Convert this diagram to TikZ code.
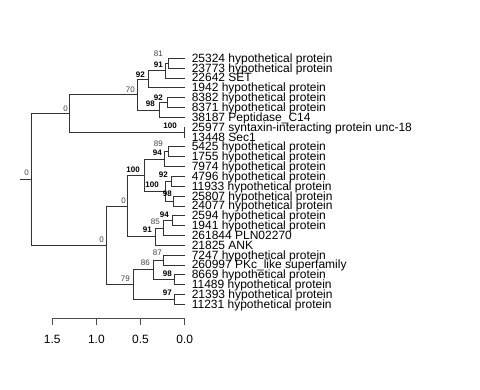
\documentclass[tikz,border=0pt]{standalone}
\usepackage{fontspec}
\setmainfont{Liberation Sans}
\usepackage{tikz}
\usetikzlibrary{calc}
\tikzset{
  treeline/.style={
    draw=black!80, line width=0.6pt
  },
  tiplabel/.style={
    anchor=base west, inner sep=0pt, xshift=4.9pt, yshift=-3pt,
    font=\fontsize{9}{9}\selectfont
  },
  bootlabel/.style={
    anchor=base east, inner sep=0pt,
    font=\fontsize{6}{6}\selectfont, text=black!75
  },
  bootstrong/.style={
    anchor=base east, inner sep=0pt,
    font=\fontsize{6}{6}\selectfont\bfseries, text=black
  },
  axisline/.style={
    draw=black!70, line width=0.6pt
  },
  axislabel/.style={
    anchor=base, inner sep=0pt, font=\fontsize{9}{9}\selectfont
  },
}

\begin{document}
\begin{tikzpicture}[x=0.75pt, y=-0.75pt]
  \useasboundingbox (0,0) rectangle (480,390);

  % --- Tips ---
  \coordinate (t1) at (185, 58.30);  \node[tiplabel] (n1) at (t1) {25324 hypothetical protein};
  \coordinate (t2) at (185, 68.14);  \node[tiplabel] (n2) at (t2) {23773 hypothetical protein};
  \coordinate (t3) at (185, 77.98);  \node[tiplabel] (n3) at (t3) {22642 SET};
  \coordinate (t4) at (185, 87.82);  \node[tiplabel] (n4) at (t4) {1942 hypothetical protein};
  \coordinate (t5) at (185, 97.66);  \node[tiplabel] (n5) at (t5) {8382 hypothetical protein};
  \coordinate (t6) at (185,107.50);  \node[tiplabel] (n6) at (t6) {8371 hypothetical protein};
  \coordinate (t7) at (185,117.34);  \node[tiplabel] (n7) at (t7) {38187 Peptidase\_C14};
  \coordinate (t8) at (185,127.18);  \node[tiplabel] (n8) at (t8) {25977 syntaxin-interacting protein unc-18};
  \coordinate (t9) at (185,137.02);  \node[tiplabel] (n9) at (t9) {13448 Sec1};
  \coordinate (t10) at (185,146.86); \node[tiplabel] (n10) at (t10) {5425 hypothetical protein};
  \coordinate (t11) at (185,156.70); \node[tiplabel] (n11) at (t11) {1755 hypothetical protein};
  \coordinate (t12) at (185,166.54); \node[tiplabel] (n12) at (t12) {7974 hypothetical protein};
  \coordinate (t13) at (185,176.38); \node[tiplabel] (n13) at (t13) {4796 hypothetical protein};
  \coordinate (t14) at (185,186.22); \node[tiplabel] (n14) at (t14) {11933 hypothetical protein};
  \coordinate (t15) at (185,196.06); \node[tiplabel] (n15) at (t15) {25807 hypothetical protein};
  \coordinate (t16) at (185,205.90); \node[tiplabel] (n16) at (t16) {24077 hypothetical protein};
  \coordinate (t17) at (185,215.74); \node[tiplabel] (n17) at (t17) {2594 hypothetical protein};
  \coordinate (t18) at (185,225.58); \node[tiplabel] (n18) at (t18) {1941 hypothetical protein};
  \coordinate (t19) at (185,235.42); \node[tiplabel] (n19) at (t19) {261844 PLN02270};
  \coordinate (t20) at (185,245.26); \node[tiplabel] (n20) at (t20) {21825 ANK};
  \coordinate (t21) at (185,255.10); \node[tiplabel] (n21) at (t21) {7247 hypothetical protein};
  \coordinate (t22) at (185,264.94); \node[tiplabel] (n22) at (t22) {260997 PKc\_like superfamily};
  \coordinate (t23) at (185,274.78); \node[tiplabel] (n23) at (t23) {8669 hypothetical protein};
  \coordinate (t24) at (185,284.62); \node[tiplabel] (n24) at (t24) {11489 hypothetical protein};
  \coordinate (t25) at (185,294.46); \node[tiplabel] (n25) at (t25) {21393 hypothetical protein};
  \coordinate (t26) at (185,304.30); \node[tiplabel] (n26) at (t26) {11231 hypothetical protein};

  % --- Inner nodes, upper clade ---
  \coordinate (c81)   at (168.0, 63.22);
  \coordinate (c91)   at (165.0, 70.60);
  \coordinate (c92a)  at (148.0, 79.21);
  \coordinate (c92b)  at (167.0,102.58);
  \coordinate (c98a)  at (159.5,109.96);
  \coordinate (c70)   at (137.0, 94.59);
  \coordinate (c100a) at (184.3,132.10);
  \coordinate (c0u)   at ( 69.0,113.34);

  % --- Inner nodes, lower clade ---
  \coordinate (c89)   at (168.5,151.78);
  \coordinate (c94a)  at (164.0,159.16);
  \coordinate (c92c)  at (171.0,181.30);
  \coordinate (c98c)  at (173.5,200.98);
  \coordinate (c100c) at (165.0,191.14);
  \coordinate (c100b) at (144.0,175.15);
  \coordinate (c94b)  at (172.0,220.66);
  \coordinate (c85)   at (163.0,228.04);
  \coordinate (c91b)  at (155.0,236.65);
  \coordinate (c0b)   at (127.5,205.90);
  \coordinate (c87)   at (163.0,260.02);
  \coordinate (c98d)  at (174.0,279.70);
  \coordinate (c86)   at (153.0,269.86);
  \coordinate (c97)   at (174.0,299.38);
  \coordinate (c79)   at (133.0,284.62);
  \coordinate (c0L)   at (106.0,245.26);

  % --- Root ---
  \coordinate (root) at (31.0,179.30);
  \coordinate (stub) at (20.0,179.30);

  % --- Branches ---
  \draw[treeline] (stub) -- (root);
  \draw[treeline] (root) |- (c0u) (root) |- (c0L);
  \draw[treeline] (c0u) |- (c70) (c0u) |- (c100a);
  \draw[treeline] (c70) |- (c92a) (c70) |- (c98a);
  \draw[treeline] (c92a) |- (c91) (c92a) |- (t4);
  \draw[treeline] (c91) |- (c81) (c91) |- (t3);
  \draw[treeline] (c81) |- (t1) (c81) |- (t2);
  \draw[treeline] (c98a) |- (c92b) (c98a) |- (t7);
  \draw[treeline] (c92b) |- (t5) (c92b) |- (t6);
  \draw[treeline] (c100a) |- (t8) (c100a) |- (t9);
  \draw[treeline] (c0L) |- (c0b) (c0L) |- (c79);
  \draw[treeline] (c0b) |- (c100b) (c0b) |- (c91b);
  \draw[treeline] (c100b) |- (c94a) (c100b) |- (c100c);
  \draw[treeline] (c94a) |- (c89) (c94a) |- (t12);
  \draw[treeline] (c89) |- (t10) (c89) |- (t11);
  \draw[treeline] (c100c) |- (c92c) (c100c) |- (c98c);
  \draw[treeline] (c92c) |- (t13) (c92c) |- (t14);
  \draw[treeline] (c98c) |- (t15) (c98c) |- (t16);
  \draw[treeline] (c91b) |- (c85) (c91b) |- (t20);
  \draw[treeline] (c85) |- (c94b) (c85) |- (t19);
  \draw[treeline] (c94b) |- (t17) (c94b) |- (t18);
  \draw[treeline] (c79) |- (c86) (c79) |- (c97);
  \draw[treeline] (c86) |- (c87) (c86) |- (c98d);
  \draw[treeline] (c87) |- (t21) (c87) |- (t22);
  \draw[treeline] (c98d) |- (t23) (c98d) |- (t24);
  \draw[treeline] (c97) |- (t25) (c97) |- (t26);

  % --- Support values ---
  \node[bootlabel]  (b0r)   at ( 29.0,175.5) {0};
  \node[bootlabel]  (b0u)   at ( 68.0,111.0) {0};
  \node[bootlabel]  (b70)   at (135.0, 92.0) {70};
  \node[bootstrong] (b92a)  at (145.0, 77.0) {92};
  \node[bootstrong] (b91)   at (163.0, 67.0) {91};
  \node[bootlabel]  (b81)   at (163.0, 56.0) {81};
  \node[bootstrong] (b92b)  at (163.0,100.0) {92};
  \node[bootstrong] (b98a)  at (155.0,106.0) {98};
  \node[bootstrong] (b100a) at (177.0,128.0) {100};
  \node[bootlabel]  (b89)   at (163.0,146.0) {89};
  \node[bootstrong] (b94a)  at (162.0,155.0) {94};
  \node[bootstrong] (b100b) at (140.0,172.0) {100};
  \node[bootstrong] (b92c)  at (168.0,177.0) {92};
  \node[bootstrong] (b100c) at (159.0,187.0) {100};
  \node[bootstrong] (b98c)  at (172.0,196.0) {98};
  \node[bootlabel]  (b0b)   at (126.0,203.0) {0};
  \node[bootstrong] (b94b)  at (169.0,217.0) {94};
  \node[bootlabel]  (b85)   at (160.0,224.0) {85};
  \node[bootstrong] (b91b)  at (152.0,232.0) {91};
  \node[bootlabel]  (b0L)   at (104.0,242.0) {0};
  \node[bootlabel]  (b87)   at (162.0,255.0) {87};
  \node[bootlabel]  (b86)   at (150.0,265.0) {86};
  \node[bootstrong] (b98d)  at (172.0,276.0) {98};
  \node[bootlabel]  (b79)   at (130.0,281.0) {79};
  \node[bootstrong] (b97)   at (172.0,295.0) {97};

  % --- Scale axis ---
  \coordinate (a15) at ( 52.3,318.3);
  \coordinate (a10) at ( 96.4,318.3);
  \coordinate (a05) at (140.5,318.3);
  \coordinate (a00) at (184.7,318.3);
  \draw[axisline] (a15) -- (a00);
  \draw[axisline] (a15) -- ++(0,7) (a10) -- ++(0,7) (a05) -- ++(0,7) (a00) -- ++(0,7);
  \node[axislabel] (l15) at ( 52.3,343.3) {1.5};
  \node[axislabel] (l10) at ( 96.4,343.3) {1.0};
  \node[axislabel] (l05) at (140.5,343.3) {0.5};
  \node[axislabel] (l00) at (184.7,343.3) {0.0};

\end{tikzpicture}
\end{document}
